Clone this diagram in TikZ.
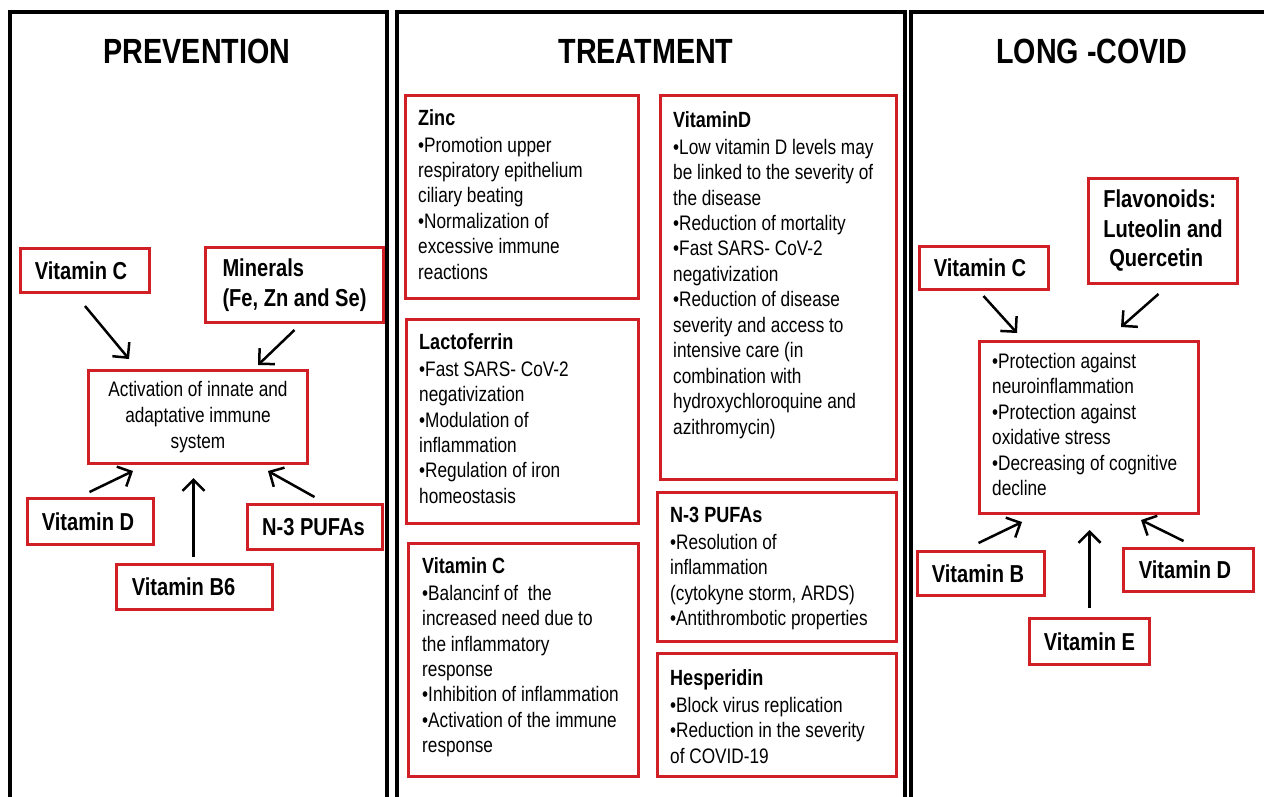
\documentclass[tikz,border=0pt]{standalone}
\usepackage{fontspec}
\setmainfont[FakeStretch=0.82]{Liberation Sans}
\usetikzlibrary{arrows.meta,calc}
\definecolor{boxred}{RGB}{208,32,38}
\tikzset{
  panel/.style={line width=3.5pt, draw=black, line join=miter},
  rbox/.style={draw=boxred, line width=3pt, inner sep=0pt, rectangle, anchor=north west},
  lbl/.style={rbox, font=\fontsize{24.5}{29.5}\selectfont\bfseries, align=center},
  lbll/.style={rbox, font=\fontsize{24.5}{29.5}\selectfont\bfseries, align=left},
  body/.style={anchor=north west, inner sep=0pt, align=left, font=\fontsize{21}{25.45}\selectfont},
  ttl/.style={font=\fontsize{35}{40}\selectfont\bfseries},
  arr/.style={line width=2.5pt, -{Straight Barb[length=11pt,width=22pt]}},
}
\newcommand{\hd}[1]{{\fontsize{22}{26}\selectfont\bfseries #1}\\[1.5pt]}
\begin{document}
\begin{tikzpicture}[x=1pt,y=-1pt]
\useasboundingbox (0,0) rectangle (1264,796);
\fill[white] (0,0) rectangle (1264,796);
\clip (0,0) rectangle (1264,796);

% panels
\draw[panel] (10,805) -- (10,12) -- (387,12) -- (387,805);
\draw[panel] (397,805) -- (397,12) -- (905,12) -- (905,805);
\draw[panel] (911,805) -- (911,12) -- (1275,12);

% ---------- PREVENTION ----------
\node[ttl] (tprev) at (197,51) {PREVENTION};
\node[lbl, minimum width=129, minimum height=44] (pvc) at (19,247) {Vitamin C\hspace{8pt}};
\node[lbll, minimum width=178, minimum height=75] (pmin) at (204,246) {Minerals\\(Fe, Zn and Se)};
\node[rbox, minimum width=219, minimum height=93, align=center, font=\fontsize{21}{26}\selectfont] (pact) at (87,369) {Activation of innate and\\adaptative immune\\system};
\node[lbl, minimum width=126, minimum height=46] (pvd) at (26,497) {Vitamin D\hspace{5pt}};
\node[lbl, minimum width=135, minimum height=45] (pn3) at (246,503) {N-3 PUFAs\hspace{3pt}};
\node[lbl, minimum width=156, minimum height=45] (pb6) at (115,563) {Vitamin B6\hspace{22pt}};

\draw[arr] ([shift={(0,12)}]pvc.south) -- ([shift={(42,-10)}]pact.north west);
\draw[arr] ([shift={(0,6)}]pmin.south) -- ([shift={(-51,-4)}]pact.north east);
\draw[arr] ([shift={(-1,-5)}]pvd.north) -- ([shift={(46,6)}]pact.south west);
\draw[arr] ([shift={(-1,-6)}]pb6.north) -- ([shift={(-4.5,13)}]pact.south);
\draw[arr] ([shift={(-0.5,-6)}]pn3.north) -- ([shift={(-41,6)}]pact.south east);

% ---------- TREATMENT ----------
\node[ttl] (ttre) at (646,51) {TREATMENT};
\node[rbox, minimum width=233, minimum height=203] (zinc) at (404,94) {};
\node[body] (zinct) at ([shift={(14,15)}]zinc.north west) {\hd{Zinc}%
•Promotion upper\\respiratory epithelium\\ciliary beating\\•Normalization of\\excessive immune\\reactions};

\node[rbox, minimum width=232, minimum height=204] (lact) at (405,318) {};
\node[body] (lactt) at ([shift={(14,15)}]lact.north west) {\hd{Lactoferrin}%
•Fast SARS- CoV-2\\negativization\\•Modulation of\\inflammation\\•Regulation of iron\\homeostasis};

\node[rbox, minimum width=230, minimum height=233] (mvc) at (407,542) {};
\node[body] (mvct) at ([shift={(15,15)}]mvc.north west) {\hd{Vitamin C}%
•Balancinf of\ \ the\\increased need due to\\the inflammatory\\response\\•Inhibition of inflammation\\•Activation of the immune\\response};

\node[rbox, minimum width=236, minimum height=384] (mvd) at (659,94) {};
\node[body] (mvdt) at ([shift={(14,17)}]mvd.north west) {\hd{VitaminD}%
•Low vitamin D levels may\\be linked to the severity of\\the disease\\•Reduction of mortality\\•Fast SARS- CoV-2\\negativization\\•Reduction of disease\\severity and access to\\intensive care (in\\combination with\\hydroxychloroquine and\\azithromycin)};

\node[rbox, minimum width=239, minimum height=149] (mn3) at (656,491) {};
\node[body] (mn3t) at ([shift={(14,16)}]mn3.north west) {\hd{N-3 PUFAs}%
•Resolution of\\inflammation\\(cytokyne storm, ARDS)\\•Antithrombotic properties};

\node[rbox, minimum width=239, minimum height=123] (hesp) at (656,652) {};
\node[body] (hespt) at ([shift={(14,17)}]hesp.north west) {\hd{Hesperidin}%
•Block virus replication\\•Reduction in the severity\\of COVID-19};

% ---------- LONG-COVID ----------
\node[ttl] (tlc) at (1092,51) {LONG -COVID};
\node[lbl, minimum width=129, minimum height=43] (rvc) at (918,245) {Vitamin C\hspace{8pt}};
\node[lbll, minimum width=149, minimum height=105] (rfl) at (1087,177) {Flavonoids:\\Luteolin and\\\hspace{6pt}Quercetin};
\node[rbox, minimum width=219, minimum height=172] (rct) at (978,340) {};
\node[body] (rctt) at ([shift={(14,13)}]rct.north west) {•Protection against\\neuroinflammation\\•Protection against\\oxidative stress\\•Decreasing of cognitive\\decline};
\node[lbl, minimum width=127, minimum height=44] (rvb) at (916,550) {Vitamin B\hspace{6pt}};
\node[lbl, minimum width=130, minimum height=43] (rvd) at (1122,547) {Vitamin D\hspace{7pt}};
\node[lbl, minimum width=120, minimum height=46] (rve) at (1028,617) {Vitamin E};

\draw[arr] ([shift={(-0.5,5)}]rvc.south) -- ([shift={(39,-7)}]rct.north west);
\draw[arr] ([shift={(-4.5,9)}]rfl.south) -- ([shift={(-79,-13)}]rct.north east);
\draw[arr] ([shift={(-2.5,-7)}]rvb.north) -- ([shift={(44,7)}]rct.south west);
\draw[arr] ([shift={(0,-9)}]rve.north) -- ([shift={(0.5,15)}]rct.south);
\draw[arr] ([shift={(-5,-6)}]rvd.north) -- ([shift={(-59,5)}]rct.south east);
\end{tikzpicture}
\end{document}
